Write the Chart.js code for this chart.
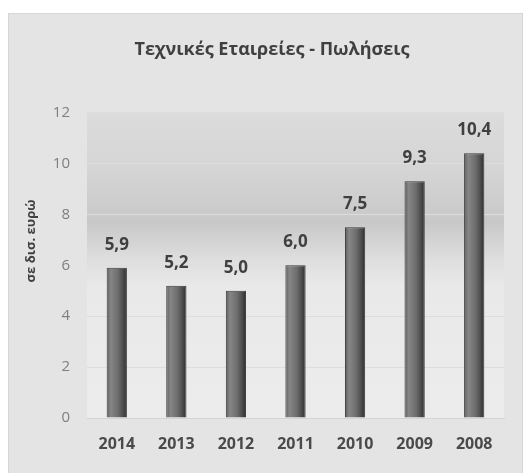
<!DOCTYPE html>
<html>
<head>
<meta charset="utf-8">
<script src="https://cdn.jsdelivr.net/npm/chart.js@4/dist/chart.umd.min.js"></script>
<style>
  html, body { margin: 0; padding: 0; background: #ffffff; }
  #wrap { width: 525px; height: 473px; }
</style>
</head>
<body>
<div id="wrap"><canvas id="chart" width="525" height="473"></canvas></div>
<script>
// data
var years = ["2014", "2013", "2012", "2011", "2010", "2009", "2008"];
var sales = [5.9, 5.2, 5.0, 6.0, 7.5, 9.3, 10.4];
var yTicks = [0, 2, 4, 6, 8, 10, 12];
var chartTitle = "Τεχνικές Εταιρείες - Πωλήσεις";
var yTitle = "σε δισ. ευρώ";

var FONT = "'Open Sans', 'Noto Sans', sans-serif";

// grey panel behind everything + gradient behind the plot
var backdrop = {
  id: "backdrop",
  beforeDraw: function (chart) {
    var ctx = chart.ctx, a = chart.chartArea;
    ctx.save();
    ctx.fillStyle = "#e4e4e4";
    ctx.fillRect(8, 13, 515, 460);
    ctx.strokeStyle = "#d6d6d6";
    ctx.lineWidth = 1;
    ctx.strokeRect(8.5, 13.5, 514, 470);
    var g = ctx.createLinearGradient(0, a.top, 0, a.bottom);
    g.addColorStop(0, "#dcdcdc");
    g.addColorStop(0.2, "#d4d4d4");
    g.addColorStop(0.36, "#c8c8c8");
    g.addColorStop(0.48, "#dedede");
    g.addColorStop(0.57, "#e9e9e9");
    g.addColorStop(1, "#ececec");
    ctx.fillStyle = g;
    ctx.fillRect(a.left, a.top, a.right - a.left, a.bottom - a.top);
    ctx.restore();
  },
  afterDraw: function (chart) {
    var ctx = chart.ctx;
    ctx.save();
    ctx.translate(31, 241);
    ctx.rotate(-Math.PI / 2);
    ctx.fillStyle = "#404040";
    ctx.font = "bold 13px " + FONT;
    ctx.textAlign = "center";
    ctx.textBaseline = "middle";
    ctx.fillText(yTitle, 0, 0);
    ctx.restore();
  }
};

// value labels above the bars, greek decimal comma
var valueLabels = {
  id: "valueLabels",
  afterDatasetsDraw: function (chart) {
    var ctx = chart.ctx;
    var meta = chart.getDatasetMeta(0);
    ctx.save();
    ctx.fillStyle = "#404040";
    ctx.font = "bold 17px " + FONT;
    ctx.textAlign = "center";
    ctx.textBaseline = "middle";
    meta.data.forEach(function (bar, i) {
      ctx.fillText(sales[i].toFixed(1).replace(".", ","), bar.x, bar.y - 23);
    });
    ctx.restore();
  }
};

function barFill(context) {
  var chart = context.chart;
  var x = chart.scales.x;
  if (!x) return "#666666";
  var cx = x.getPixelForValue(context.dataIndex);
  if (!isFinite(cx)) return "#666666";
  var half = 10;
  var g = chart.ctx.createLinearGradient(cx - half, 0, cx + half, 0);
  g.addColorStop(0, "#5e5e5e");
  g.addColorStop(0.2, "#868686");
  g.addColorStop(0.55, "#6e6e6e");
  g.addColorStop(0.8, "#4e4e4e");
  g.addColorStop(1, "#2e2e2e");
  return g;
}

new Chart(document.getElementById("chart"), {
  type: "bar",
  data: {
    labels: years,
    datasets: [{
      data: sales,
      backgroundColor: barFill,
      borderColor: "#3a3a3a",
      borderWidth: 1,
      categoryPercentage: 1,
      barPercentage: 0.34
    }]
  },
  options: {
    responsive: false,
    animation: false,
    layout: { padding: { left: 40, right: 21, top: 0, bottom: 0 } },
    plugins: {
      legend: { display: false },
      tooltip: { enabled: false },
      title: {
        display: true,
        text: chartTitle,
        color: "#404040",
        font: { family: FONT, size: 18, weight: "bold" },
        padding: { top: 39, bottom: 52 }
      }
    },
    scales: {
      x: {
        grid: { display: false, drawTicks: false },
        border: { display: true, color: "#d4d4d4" },
        ticks: {
          color: "#4a4a4a",
          font: { family: FONT, size: 16, weight: "bold" },
          padding: 17
        },
        afterFit: function (s) { s.height = 55; }
      },
      y: {
        min: 0,
        max: 12,
        afterBuildTicks: function (s) {
          s.ticks = yTicks.map(function (v) { return { value: v }; });
        },
        grid: { color: "#dddddd", drawTicks: false },
        border: { display: false },
        ticks: {
          color: "#7f7f7f",
          font: { family: FONT, size: 15 },
          padding: 17
        },
        afterFit: function (s) { s.width = 47; }
      }
    }
  },
  plugins: [backdrop, valueLabels]
});
</script>
</body>
</html>
